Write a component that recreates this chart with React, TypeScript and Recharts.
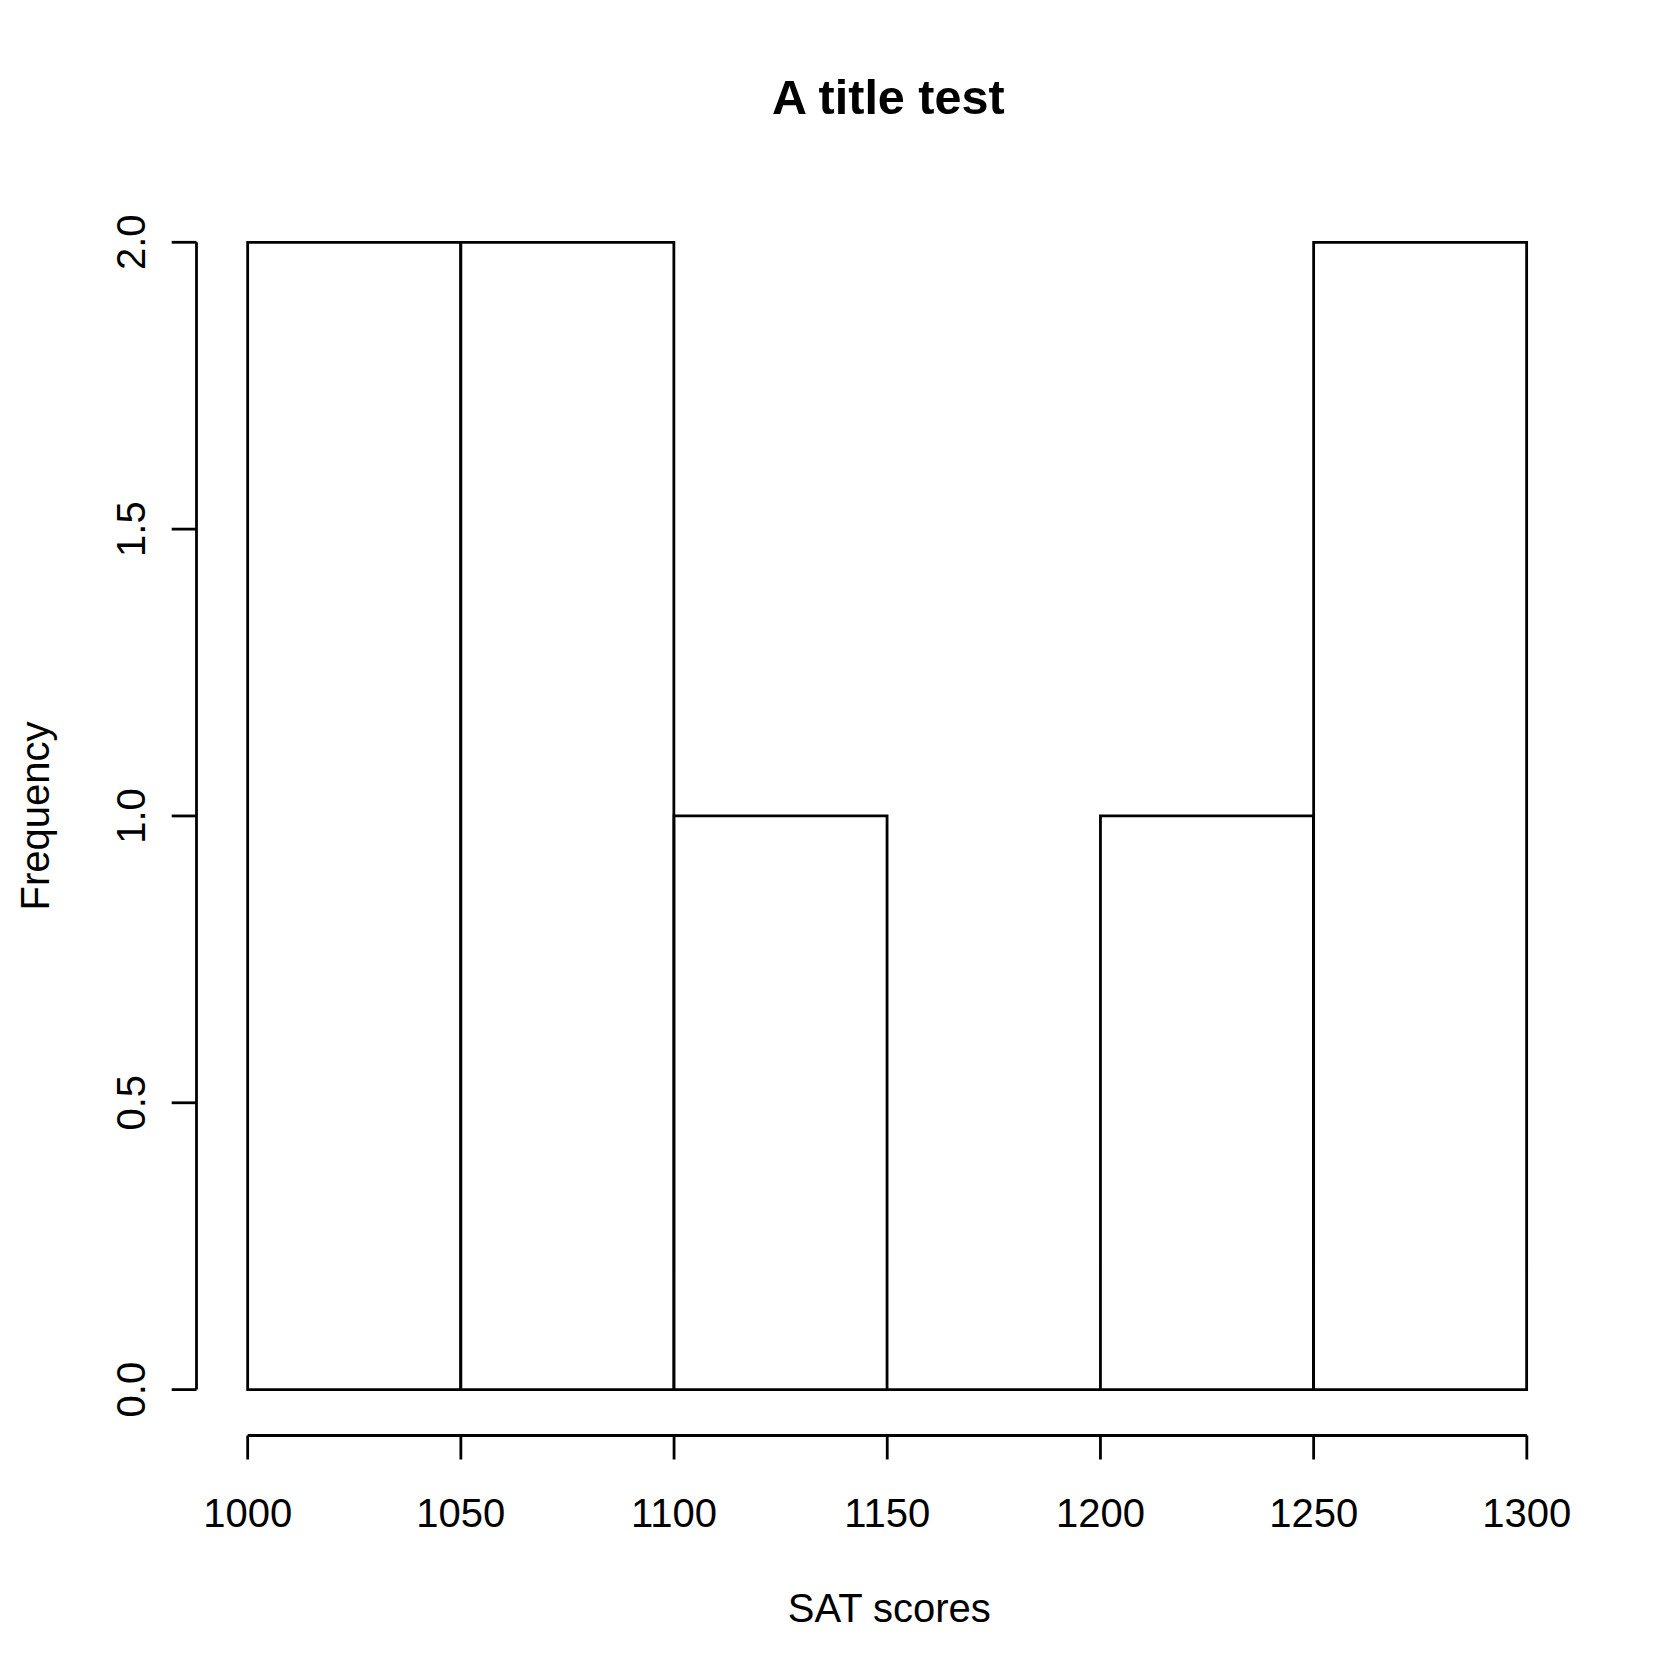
import React from 'react';
import { BarChart, Bar, XAxis, YAxis, ReferenceLine } from 'recharts';

const binStarts = [1000, 1050, 1100, 1150, 1200, 1250];
const binEnds = [1050, 1100, 1150, 1200, 1250, 1300];
const counts = [2, 2, 1, 0, 1, 2];
const xTicks = [1000, 1050, 1100, 1150, 1200, 1250, 1300];
const yTicks = [0, 0.5, 1.0, 1.5, 2.0];
const title = 'A title test';
const xLabel = 'SAT scores';
const yLabel = 'Frequency';

const data = binStarts.map((s, i) => ({ mid: (s + binEnds[i]) / 2, count: counts[i] }));

const xSpan = xTicks[xTicks.length - 1] - xTicks[0];
const ySpan = yTicks[yTicks.length - 1] - yTicks[0];
const xDomain: [number, number] = [xTicks[0] - 0.04 * xSpan, xTicks[xTicks.length - 1] + 0.04 * xSpan];
const yDomain: [number, number] = [yTicks[0] - 0.04 * ySpan, yTicks[yTicks.length - 1] + 0.04 * ySpan];

const FONT = '"Liberation Sans", Arial, Helvetica, sans-serif';
const SW = 2.8;
const W = 1680;
const H = 1680;
const PLOT_LEFT = 196.5;
const PLOT_RIGHT = 1578;
const PLOT_TOP = 196.4;
const PLOT_BOTTOM = 1435.5;
const Y_AXIS_W = 150;
const X_AXIS_H = 120;

const BarShape = (props: any) => {
  const { x, y, width, height } = props;
  const d = `M${x},${y + height} L${x},${y} L${x + width},${y} L${x + width},${y + height} Z`;
  return <path d={d} fill="#fff" stroke="#000" strokeWidth={SW} strokeLinejoin="miter" />;
};

const YTick = (props: any) => {
  const { x, y, payload } = props;
  return (
    <text
      x={x}
      y={y}
      transform={`rotate(-90, ${x}, ${y})`}
      textAnchor="middle"
      fontSize={40}
      fill="#000"
      fontFamily={FONT}
    >
      {Number(payload.value).toFixed(1)}
    </text>
  );
};

const XTick = (props: any) => {
  const { x, y, payload } = props;
  return (
    <text x={x} y={y} dy="0.71em" textAnchor="middle" fontSize={40} fill="#000" fontFamily={FONT}>
      {payload.value}
    </text>
  );
};

export default function App() {
  const cx = (PLOT_LEFT + PLOT_RIGHT) / 2;
  const cy = (PLOT_TOP + PLOT_BOTTOM) / 2;
  return (
    <div style={{ position: 'absolute', left: 0, top: 0, width: W, height: H, background: '#fff' }}>
      <BarChart
        width={W}
        height={H}
        data={data}
        barCategoryGap={0}
        barGap={0}
        margin={{
          top: PLOT_TOP,
          left: PLOT_LEFT - Y_AXIS_W,
          right: W - PLOT_RIGHT,
          bottom: H - PLOT_BOTTOM - X_AXIS_H,
        }}
      >
        <XAxis
          dataKey="mid"
          type="number"
          domain={xDomain}
          ticks={xTicks}
          interval={0}
          allowDataOverflow
          height={X_AXIS_H}
          axisLine={false}
          tickLine={{ stroke: '#000', strokeWidth: SW }}
          tickSize={24}
          tickMargin={39}
          tick={<XTick />}
        />
        <YAxis
          type="number"
          domain={yDomain}
          ticks={yTicks}
          interval={0}
          allowDataOverflow
          width={Y_AXIS_W}
          axisLine={false}
          tickLine={{ stroke: '#000', strokeWidth: SW }}
          tickSize={24.8}
          tickMargin={27}
          tick={<YTick />}
        />
        <Bar dataKey="count" isAnimationActive={false} shape={<BarShape />} />
        <ReferenceLine
          segment={[
            { x: xTicks[0], y: yDomain[0] },
            { x: xTicks[xTicks.length - 1], y: yDomain[0] },
          ]}
          stroke="#000"
          strokeWidth={SW}
          ifOverflow="visible"
        />
        <ReferenceLine
          segment={[
            { x: xDomain[0], y: yTicks[0] },
            { x: xDomain[0], y: yTicks[yTicks.length - 1] },
          ]}
          stroke="#000"
          strokeWidth={SW}
          ifOverflow="visible"
        />
      </BarChart>
      <svg
        width={W}
        height={H}
        style={{ position: 'absolute', left: 0, top: 0, pointerEvents: 'none' }}
      >
        <text x={cx + 1} y={114} textAnchor="middle" fontSize={48.5} fontWeight="bold" fill="#000" fontFamily={FONT}>
          {title}
        </text>
        <text x={cx + 2} y={1621.5} textAnchor="middle" fontSize={40} fill="#000" fontFamily={FONT}>
          {xLabel}
        </text>
        <text
          x={48.8}
          y={cy}
          transform={`rotate(-90, 48.8, ${cy})`}
          textAnchor="middle"
          fontSize={40}
          fill="#000"
          fontFamily={FONT}
        >
          {yLabel}
        </text>
      </svg>
    </div>
  );
}
